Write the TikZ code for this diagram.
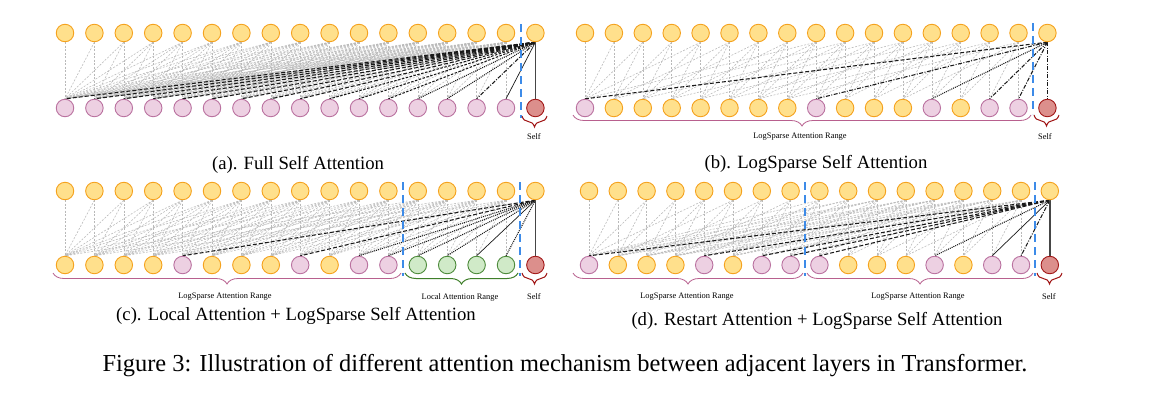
\documentclass[tikz,border=0pt]{standalone}
\usepackage{fontspec}
\setmainfont{Liberation Serif}
\usetikzlibrary{decorations.pathreplacing}
\pgfdeclarelayer{bg}
\pgfdeclarelayer{paper}
\pgfsetlayers{paper,bg,main}
\definecolor{topfill}{HTML}{FFE08C}
\definecolor{topdraw}{HTML}{F5A21E}
\definecolor{pinkfill}{HTML}{EDD0E2}
\definecolor{pinkdraw}{HTML}{BA72A0}
\definecolor{redfill}{HTML}{DC8F8C}
\definecolor{reddraw}{HTML}{A21818}
\definecolor{grnfill}{HTML}{D0EAC8}
\definecolor{grndraw}{HTML}{4E8B3C}
\definecolor{sepblue}{HTML}{3D8BE8}
\definecolor{bracepink}{HTML}{B8608E}
\definecolor{bracegreen}{HTML}{3F7F2A}
\definecolor{bracered}{HTML}{A01414}
\tikzset{
  unit/.style={circle, minimum size=17.5pt, inner sep=0pt, line width=0.9pt},
  topn/.style={unit, fill=topfill, draw=topdraw},
  orn/.style={unit, fill=topfill, draw=topdraw},
  pkn/.style={unit, fill=pinkfill, draw=pinkdraw},
  rdn/.style={unit, fill=redfill, draw=reddraw},
  gnn/.style={unit, fill=grnfill, draw=grndraw},
  gline/.style={draw=gray!55, line width=0.55pt, dash pattern=on 2pt off 1.5pt},
  bline/.style={draw=black!90, line width=1.05pt},
  bdash/.style={dash pattern=on 4pt off 2pt},
  bdense/.style={dash pattern=on 2.5pt off 1.5pt},
  bdot/.style={dash pattern=on 1pt off 1pt},
  bdd/.style={dash pattern=on 4pt off 1.5pt on 1pt off 1.5pt},
  bsolid/.style={solid, line width=0.7pt},
  selfline/.style={draw=gray!55!black, line width=1.6pt},
  sep/.style={draw=sepblue, line width=2.4pt, dash pattern=on 8pt off 5pt},
  brc/.style={decorate, decoration={brace, mirror, amplitude=11pt}, line width=1pt},
  lbl/.style={font=\fontsize{8.4}{10}\selectfont, inner sep=0pt},
  captxt/.style={font=\fontsize{18.7}{22}\selectfont, inner sep=0pt},
}
\newcommand\toprow[4]{%
  \foreach \i in {0,...,16} \node[topn] (#1-t\i) at ({#2+\i*#3},#4) {};}
\newcommand\botrow[5]{%
  \foreach \s [count=\k from 0] in {#5} \node[\s] (#1-b\k) at ({#2+\k*#3},#4) {};}
\newcommand\greylines[2]{%
  \foreach \i in {0,...,15}{\foreach \d in {#2}{%
    \pgfmathtruncatemacro\j{\i-\d}%
    \ifnum\j>-1 \draw[gline] (#1-t\i.south) -- (#1-b\j.north);\fi}}}
\begin{document}
\begin{tikzpicture}[x=1pt,y=1pt]
\begin{pgfonlayer}{paper}
\fill[white] (0,0) rectangle (1152,-405);
\end{pgfonlayer}
\useasboundingbox (0,0) rectangle (1152,-405);

% ---------- (a)
\toprow{a}{65}{29.4}{-33}
\botrow{a}{65}{29.4}{-108}{pkn,pkn,pkn,pkn,pkn,pkn,pkn,pkn,pkn,pkn,pkn,pkn,pkn,pkn,pkn,pkn,rdn}
% ---------- (b)
\toprow{b}{585}{28.9}{-33}
\botrow{b}{585}{28.9}{-108}{pkn,orn,orn,orn,orn,orn,orn,orn,pkn,orn,orn,orn,pkn,orn,pkn,pkn,rdn}
% ---------- (c)
\toprow{c}{65}{29.4}{-191}
\botrow{c}{65}{29.4}{-265}{orn,orn,orn,orn,pkn,orn,orn,orn,pkn,orn,pkn,pkn,gnn,gnn,gnn,gnn,rdn}
% ---------- (d)
\toprow{d}{589}{28.8}{-191}
\botrow{d}{589}{28.8}{-265}{pkn,orn,orn,orn,pkn,orn,pkn,pkn,pkn,orn,orn,orn,pkn,orn,pkn,pkn,rdn}

\begin{pgfonlayer}{bg}
\greylines{a}{0,1,2,3,4,5,6,7,8,9,10,11,12,13,14,15,16}
\greylines{b}{0,1,2,4,8,16}
\greylines{c}{0,1,2,3,4,5,6,8,12}
\greylines{d}{0,1,2,4,8,9,10,12,16}
\foreach \j/\st in {0/bdash,1/bdash,2/bdash,3/bdash,4/bdash,5/bdash,6/bdash,7/bdash,8/bdash,9/bdense,10/bdense,11/bdense,12/bdot,13/bdot,14/bdd,15/bsolid}
  \draw[bline,\st] (a-t16.south) -- (a-b\j.north);
\draw[selfline] (a-t16.south) -- (a-b16.north);
\foreach \j/\st in {0/bdash,8/bdd,12/bdot,14/bdd,15/bdd}
  \draw[bline,\st] (b-t16.south) -- (b-b\j.north);
\draw[bline,bdd] (b-t16.south) -- (b-b16.north);
\foreach \j/\st in {4/bdash,8/bdash,10/bdot,11/bdot,12/bdot,13/bdot,14/bsolid,15/bdot}
  \draw[bline,\st] (c-t16.south) -- (c-b\j.north);
\draw[selfline] (c-t16.south) -- (c-b16.north);
\foreach \j/\st in {0/bdash,4/bdash,6/bdash,7/bdash,8/bdash,12/bdot,14/bsolid,15/bdd}
  \draw[bline,\st] (d-t16.south) -- (d-b\j.north);
\draw[selfline] (d-t16.south) -- (d-b16.north);
\end{pgfonlayer}

% separators
\coordinate (sa1) at (521,-24); \coordinate (sa2) at (521,-118);
\draw[sep] (sa1) -- (sa2);
\coordinate (sb1) at (1033,-23); \coordinate (sb2) at (1033,-114);
\draw[sep] (sb1) -- (sb2);
\coordinate (sc1) at (403,-182); \coordinate (sc2) at (403,-276);
\draw[sep] (sc1) -- (sc2);
\coordinate (sc3) at (520,-182); \coordinate (sc4) at (520,-276);
\draw[sep] (sc3) -- (sc4);
\coordinate (sd1) at (805,-182); \coordinate (sd2) at (805,-276);
\draw[sep] (sd1) -- (sd2);
\coordinate (sd3) at (1035,-182); \coordinate (sd4) at (1035,-276);
\draw[sep] (sd3) -- (sd4);

% braces and labels
\coordinate (ba1) at (522,-116); \coordinate (ba2) at (547,-116);
\draw[brc, bracered] (ba1) -- (ba2);
\node[lbl] (la) at (534,-137) {Self};

\coordinate (bb1) at (573,-115); \coordinate (bb2) at (1031,-115);
\draw[brc, bracepink, line width=0.8pt] (bb1) -- (bb2);
\node[lbl] (lb1) at (800,-137) {LogSparse Attention Range};
\coordinate (bb3) at (1034,-115); \coordinate (bb4) at (1059,-115);
\draw[brc, bracered] (bb3) -- (bb4);
\node[lbl] (lb2) at (1045,-137) {Self};

\coordinate (bc1) at (53,-273); \coordinate (bc2) at (401,-273);
\draw[brc, bracepink, line width=0.8pt] (bc1) -- (bc2);
\node[lbl] (lc1) at (225,-297) {LogSparse Attention Range};
\coordinate (bc3) at (405,-273); \coordinate (bc4) at (518,-273);
\draw[brc, bracegreen] (bc3) -- (bc4);
\node[lbl] (lc2) at (460,-297) {Local Attention Range};
\coordinate (bc5) at (522,-273); \coordinate (bc6) at (547,-273);
\draw[brc, bracered] (bc5) -- (bc6);
\node[lbl] (lc3) at (534,-297) {Self};

\coordinate (bd1) at (573,-273); \coordinate (bd2) at (803,-273);
\draw[brc, bracepink, line width=0.8pt] (bd1) -- (bd2);
\node[lbl] (ld1) at (687,-297) {LogSparse Attention Range};
\coordinate (bd3) at (807,-273); \coordinate (bd4) at (1033,-273);
\draw[brc, bracepink, line width=0.8pt] (bd3) -- (bd4);
\node[lbl] (ld2) at (918,-297) {LogSparse Attention Range};
\coordinate (bd5) at (1037,-273); \coordinate (bd6) at (1062,-273);
\draw[brc, bracered] (bd5) -- (bd6);
\node[lbl] (ld3) at (1049,-297) {Self};

% captions
\node[captxt] (capa) at (298,-165) {(a). Full Self Attention};
\node[captxt] (capb) at (816,-163.5) {(b). LogSparse Self Attention};
\node[captxt] (capc) at (296,-315.5) {(c). Local Attention + LogSparse Self Attention};
\node[captxt] (capd) at (817,-320.5) {(d). Restart Attention + LogSparse Self Attention};
\node[font=\fontsize{24.4}{28}\selectfont, inner sep=0pt] (fig) at (565,-366)
  {Figure 3: Illustration of different attention mechanism between adjacent layers in Transformer.};
\end{tikzpicture}
\end{document}
